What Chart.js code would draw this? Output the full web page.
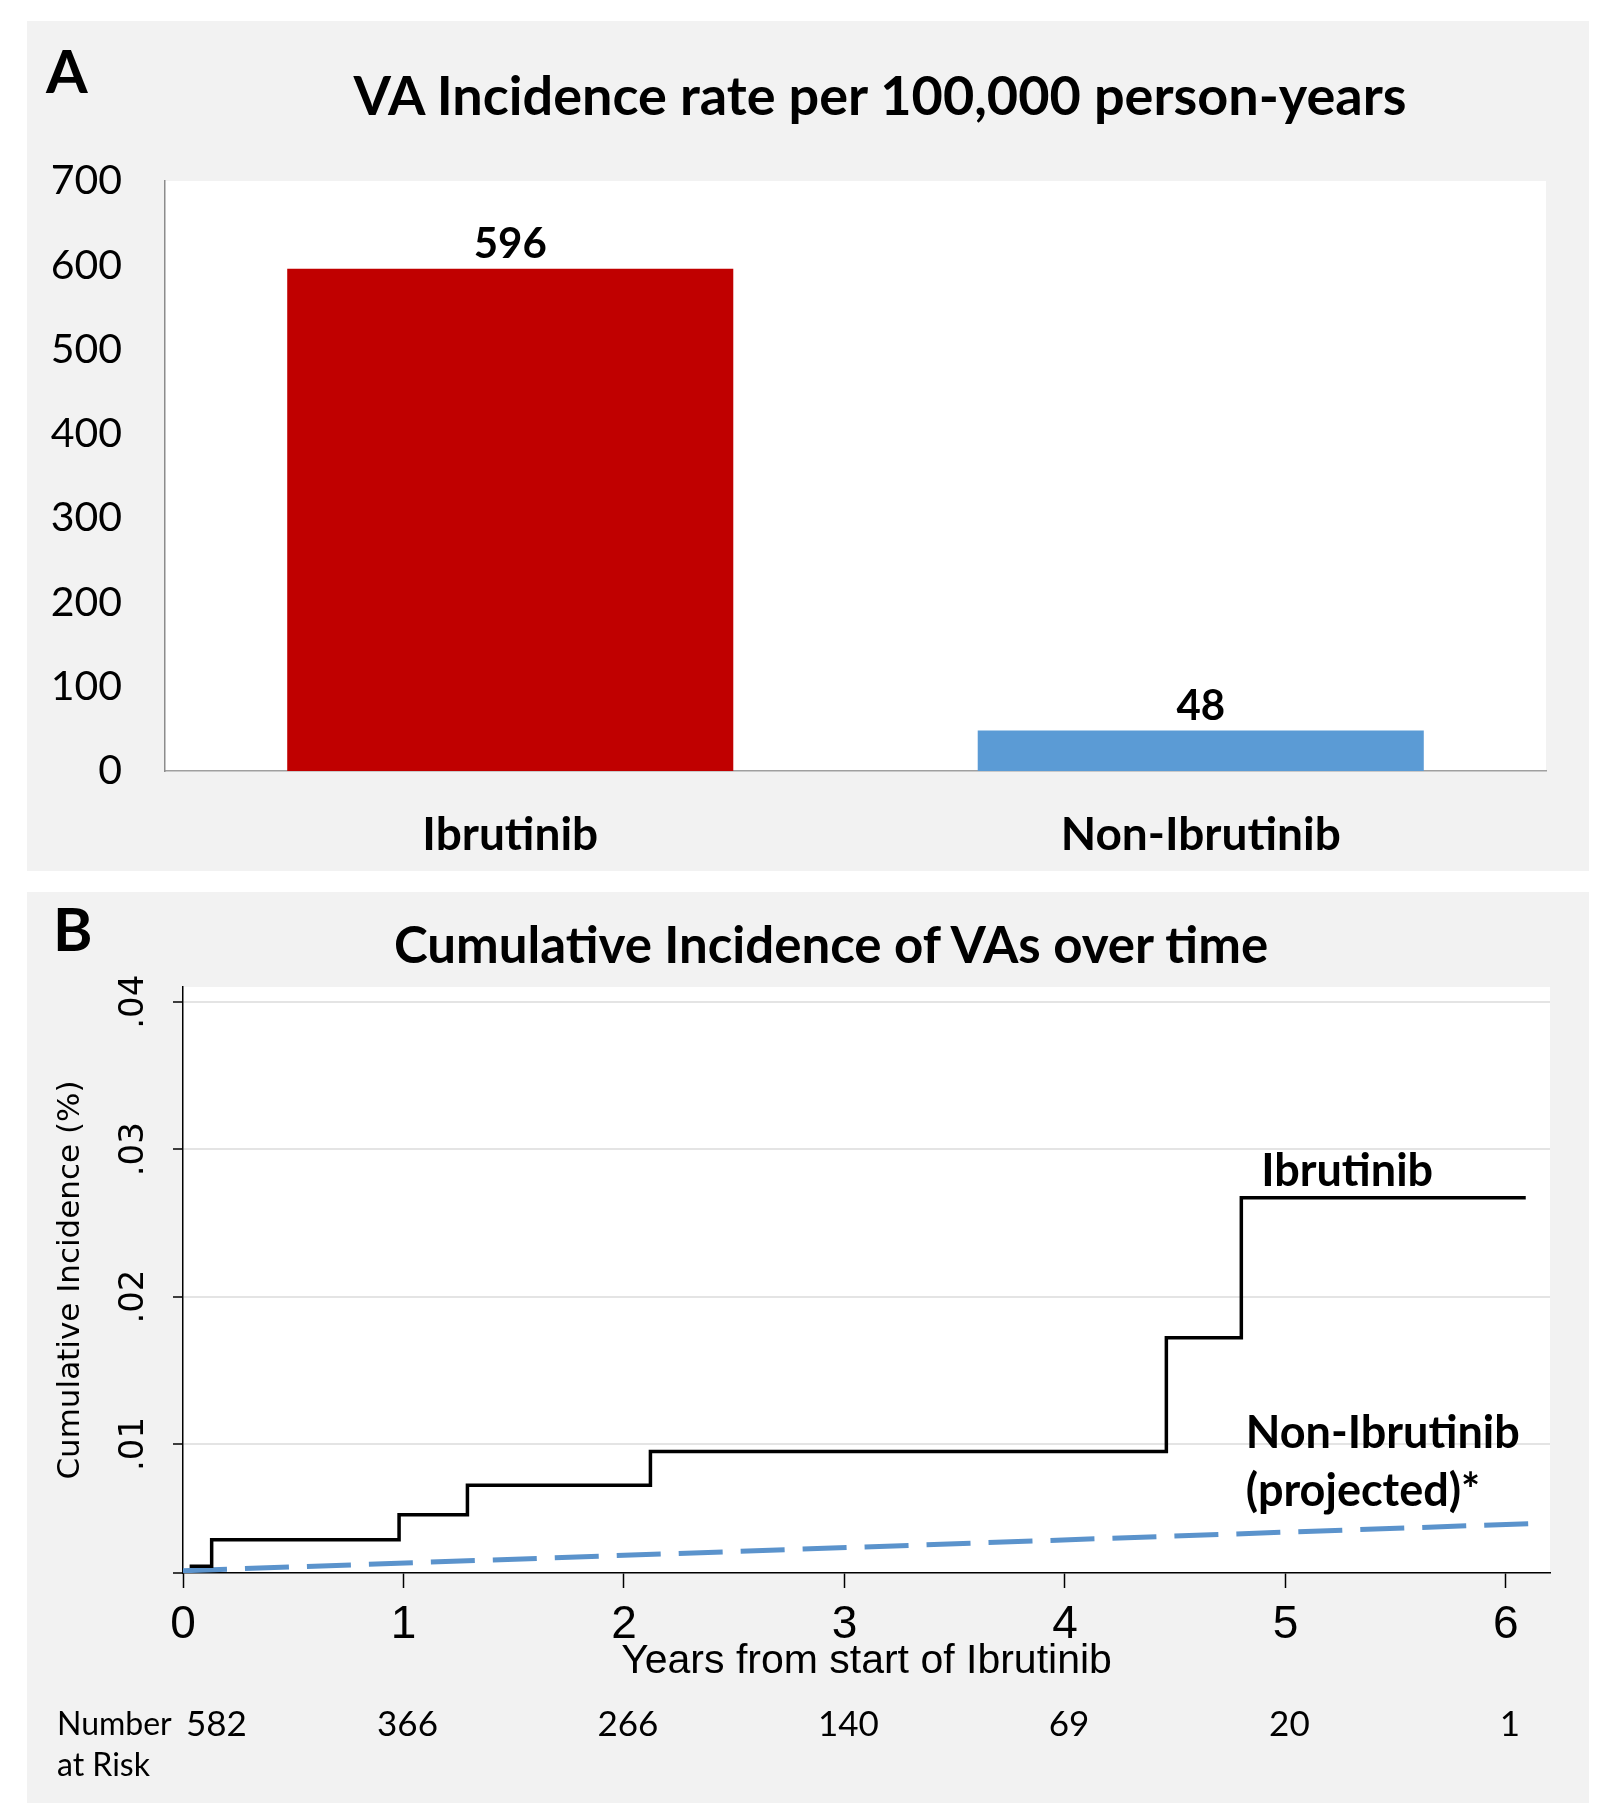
<!DOCTYPE html>
<html>
<head>
<meta charset="utf-8">
<script src="https://cdn.jsdelivr.net/npm/chart.js@4.4.1/dist/chart.umd.min.js"></script>
<style>
  body { margin: 0; background: #fff; width: 1604px; height: 1809px; position: relative; overflow: hidden; }
  .panel { position: absolute; background: #f2f2f2; }
  .panel canvas { position: absolute; left: 0; top: 0; }
  .txt { position: absolute; white-space: nowrap; color: #000; font-weight: bold; font-family: Lato, sans-serif; }
</style>
</head>
<body>
<div class="panel" id="panelA" style="left:27px;top:21px;width:1562px;height:850px;">
  <canvas id="chartA" width="1562" height="850"></canvas>
  <div class="txt" style="left:19px;top:14px;font-size:60px;line-height:70px;">A</div>
  <div class="txt" style="left:253px;top:44px;width:1200px;text-align:center;font-size:54px;line-height:60px;">VA Incidence rate per 100,000 person-years</div>
</div>
<div class="panel" id="panelB" style="left:27px;top:892px;width:1562px;height:911px;">
  <canvas id="chartB" width="1562" height="911"></canvas>
  <div class="txt" style="left:26px;top:1px;font-size:60px;line-height:70px;">B</div>
  <div class="txt" style="left:204px;top:22px;width:1200px;text-align:center;font-size:51px;line-height:60px;">Cumulative Incidence of VAs over time</div>
</div>
<script>
// Panel A: incidence rate bars
const barCategories = ['Ibrutinib', 'Non-Ibrutinib'];
const barValues = [596, 48];
const barColors = ['#c00000', '#5b9bd5'];
const rateTicks = [0, 100, 200, 300, 400, 500, 600, 700];

// Panel B: cumulative incidence over time
const ibruTimes = [0.03, 0.13, 0.98, 1.29, 2.12, 4.46, 4.80, 6.09];
const ibruValues = [0.0017, 0.0035, 0.0052, 0.0072, 0.0095, 0.0172, 0.0267, 0.0267];
const projTimes = [0, 6.11];
const projValues = [0.0014, 0.0046];
const yearTicks = [0, 1, 2, 3, 4, 5, 6];
const incidenceTicks = [0.00125, 0.01, 0.02, 0.03, 0.04];
const riskTimes = [0, 1, 2, 3, 4, 5, 6];
const riskCounts = [582, 366, 266, 140, 69, 20, 1];

const CALIBRI = "Lato, sans-serif";
const ARIAL = "'Liberation Sans', Arial, sans-serif";
const VERDANA = "'DejaVu Sans', sans-serif";
Chart.defaults.font.family = CALIBRI;
Chart.defaults.color = '#000';

// white plot background
const whitePlotArea = {
    id: 'whitePlotArea',
    beforeDraw(chart) {
        const a = chart.chartArea;
        chart.ctx.save();
        chart.ctx.fillStyle = '#fff';
        chart.ctx.fillRect(a.left, a.top, a.right - a.left, a.bottom - a.top);
        chart.ctx.restore();
    }
};

// value labels above the bars
const barValuePlugin = {
    id: 'barValuePlugin',
    afterDatasetsDraw(chart) {
        const ctx = chart.ctx;
        const meta = chart.getDatasetMeta(0);
        ctx.save();
        ctx.font = 'bold 42px ' + CALIBRI;
        ctx.fillStyle = '#000';
        ctx.textAlign = 'center';
        ctx.textBaseline = 'middle';
        meta.data.forEach((bar, i) => {
            ctx.fillText(String(barValues[i]), bar.x, bar.y - 24);
        });
        ctx.restore();
    }
};

new Chart(document.getElementById('chartA'), {
    type: 'bar',
    data: {
        labels: barCategories,
        datasets: [{
            data: barValues,
            backgroundColor: barColors,
            borderWidth: 0,
            barPercentage: 0.646,
            categoryPercentage: 1
        }]
    },
    options: {
        responsive: false,
        animation: false,
        devicePixelRatio: 1,
        layout: { padding: { top: 160, right: 43, bottom: 0, left: 0 } },
        plugins: { legend: { display: false }, tooltip: { enabled: false } },
        scales: {
            x: {
                grid: { display: false },
                border: { color: '#a0a0a0', width: 1.5 },
                ticks: { font: { size: 46, weight: 'bold' }, padding: 29 },
                afterFit: scale => { scale.height = 100; }
            },
            y: {
                min: 0,
                max: 700,
                grid: { display: false, drawTicks: false },
                border: { color: '#8c8c8c', width: 1.5 },
                afterBuildTicks: scale => { scale.ticks = rateTicks.map(v => ({ value: v })); },
                ticks: { font: { size: 41 }, padding: 43 },
                afterFit: scale => { scale.width = 138; }
            }
        }
    },
    plugins: [whitePlotArea, barValuePlugin]
});

// curve labels and number-at-risk row
const curveTextPlugin = {
    id: 'curveTextPlugin',
    afterDraw(chart) {
        const ctx = chart.ctx;
        const xs = chart.scales.x;
        const ys = chart.scales.y;
        ctx.save();
        ctx.fillStyle = '#000';
        ctx.textBaseline = 'middle';
        ctx.font = 'bold 45px ' + CALIBRI;
        ctx.textAlign = 'center';
        ctx.fillText('Ibrutinib', xs.getPixelForValue(5.28), ys.getPixelForValue(0.0285));
        ctx.textAlign = 'left';
        ctx.fillText('Non-Ibrutinib', xs.getPixelForValue(4.82), ys.getPixelForValue(0.0107));
        ctx.fillText('(projected)*', xs.getPixelForValue(4.82), ys.getPixelForValue(0.0068));

        ctx.font = '32px ' + CALIBRI;
        ctx.fillText('Number', 30, 833);
        ctx.fillText('at Risk', 30, 874);
        ctx.font = '35px ' + CALIBRI;
        riskTimes.forEach((t, i) => {
            ctx.textAlign = i === 0 ? 'left' : 'center';
            ctx.fillText(String(riskCounts[i]), xs.getPixelForValue(t) + (i === 0 ? 3 : 4), 833);
        });
        ctx.restore();
    }
};

new Chart(document.getElementById('chartB'), {
    type: 'line',
    data: {
        datasets: [{
            label: 'Ibrutinib',
            data: ibruTimes.map((t, i) => ({ x: t, y: ibruValues[i] })),
            borderColor: '#000',
            borderWidth: 3.5,
            stepped: true,
            pointRadius: 0,
            fill: false
        }, {
            label: 'Non-Ibrutinib (projected)*',
            data: projTimes.map((t, i) => ({ x: t, y: projValues[i] })),
            borderColor: '#5b93cc',
            borderWidth: 5,
            borderDash: [44, 18],
            pointRadius: 0,
            fill: false
        }]
    },
    options: {
        responsive: false,
        animation: false,
        devicePixelRatio: 1,
        layout: { padding: { top: 95, right: 39, bottom: 111, left: 0 } },
        plugins: { legend: { display: false }, tooltip: { enabled: false } },
        scales: {
            x: {
                type: 'linear',
                min: 0,
                max: 6.2,
                grid: { drawOnChartArea: false, drawTicks: true, tickLength: 15, tickColor: '#000', tickWidth: 1.5 },
                border: { color: '#000', width: 1.5 },
                afterBuildTicks: scale => { scale.ticks = yearTicks.map(v => ({ value: v })); },
                ticks: { font: { family: ARIAL, size: 46 }, padding: 10 },
                title: {
                    display: true,
                    text: 'Years from start of Ibrutinib',
                    font: { family: ARIAL, size: 41 },
                    padding: { top: 0, bottom: 6 }
                },
                afterFit: scale => { scale.height = 119; }
            },
            y: {
                min: 0.00125,
                max: 0.041,
                grid: {
                    color: ctx => (ctx.tick && ctx.tick.value < 0.005) ? 'rgba(0,0,0,0)' : '#e4e4e4',
                    lineWidth: 2,
                    drawTicks: true,
                    tickLength: 10,
                    tickColor: '#000',
                    tickWidth: 1.5
                },
                border: { color: '#000', width: 1.5 },
                afterBuildTicks: scale => { scale.ticks = incidenceTicks.map(v => ({ value: v })); },
                ticks: {
                    font: { family: VERDANA, size: 34 },
                    minRotation: 90,
                    maxRotation: 90,
                    crossAlign: 'center',
                    padding: 12,
                    callback: v => v < 0.005 ? '' : v.toFixed(2).replace(/^0/, '')
                },
                title: {
                    display: true,
                    text: 'Cumulative Incidence (%)',
                    font: { family: VERDANA, size: 31 },
                    padding: { top: 25, bottom: 0 }
                },
                afterFit: scale => { scale.width = 156; }
            }
        }
    },
    plugins: [whitePlotArea, curveTextPlugin]
});
</script>
</body>
</html>
